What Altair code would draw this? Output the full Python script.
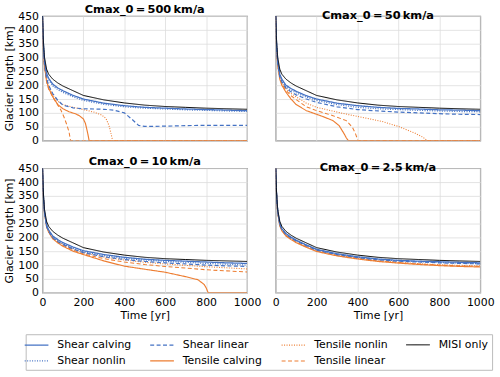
import altair as alt
import pandas as pd

# ---- data ----
PANELS = ["Cmax_0\u2009=\u2009500\u2009km/a", "Cmax_0\u2009=\u200950\u2009km/a",
          "Cmax_0\u2009=\u200910\u2009km/a", "Cmax_0\u2009=\u20092.5\u2009km/a"]

SERIES = ["Shear calving", "Shear nonlin", "Shear linear", "Tensile calving",
          "Tensile nonlin", "Tensile linear", "MISI only"]
COLORS = ["#4472c4", "#4472c4", "#4472c4", "#ed7d31", "#ed7d31", "#ed7d31", "#000000"]
DASHES = [[1, 0], [1, 1.5], [4, 2.5], [1, 0], [1, 1.5], [4, 2.5], [1, 0]]
WIDTHS = [1.3, 1.0, 1.3, 1.5, 0.8, 1.5, 1.8]

T = [0, 3, 6, 10, 20, 30, 50, 75, 100, 150, 200, 300, 400, 500, 600, 700, 800, 900, 1000]

misi = [450, 380, 340, 300, 258, 240, 222, 208, 197, 180, 163, 147, 136, 128, 123, 120, 117, 115, 113]

# panel 1: 500 km/a
p1_shear_calving = [450, 372, 330, 290, 243, 225, 204, 190, 180, 163, 150, 135, 126, 120, 117, 114, 112, 110, 108]
p1_shear_nonlin = [450, 368, 325, 285, 238, 220, 198, 184, 174, 158, 145, 131, 122, 117, 114, 111, 109, 107, 105]
p1_shear_linear_t = [0, 3, 6, 10, 20, 30, 50, 75, 100, 150, 200, 300, 350, 400, 440, 470, 500, 600, 700, 800, 900, 1000]
p1_shear_linear = [450, 360, 315, 275, 225, 200, 170, 145, 128, 118, 115, 113, 110, 100, 75, 55, 51, 52, 54, 55, 55, 55]
p1_tens_calving_t = [0, 3, 6, 10, 20, 30, 50, 75, 100, 130, 160, 180, 200, 210, 220, 228, 1000]
p1_tens_calving = [450, 355, 308, 268, 215, 190, 158, 130, 115, 104, 97, 90, 78, 62, 30, 0, 0]
p1_tens_linear_t = [0, 3, 6, 10, 20, 30, 50, 75, 90, 105, 120, 130, 137, 1000]
p1_tens_linear = [450, 352, 305, 265, 212, 186, 158, 128, 110, 85, 55, 30, 0, 0]
p1_tens_nonlin_t = [0, 3, 6, 10, 20, 30, 50, 75, 100, 150, 200, 250, 290, 310, 325, 335, 343, 1000]
p1_tens_nonlin = [450, 358, 312, 272, 220, 195, 165, 142, 130, 120, 112, 103, 92, 80, 55, 25, 0, 0]

# panel 2: 50 km/a
p2_shear_calving = [450, 370, 328, 288, 240, 222, 200, 188, 178, 162, 150, 135, 126, 120, 116, 114, 111, 110, 108]
p2_shear_nonlin = [450, 366, 323, 283, 235, 217, 195, 182, 172, 157, 145, 130, 120, 115, 112, 109, 107, 105, 104]
p2_shear_linear = [450, 362, 318, 278, 230, 212, 190, 176, 165, 150, 138, 122, 112, 107, 103, 100, 97, 95, 94]
p2_tens_calving_t = [0, 3, 6, 10, 20, 30, 50, 75, 100, 150, 200, 230, 280, 310, 335, 345, 355, 1000]
p2_tens_calving = [450, 355, 310, 270, 222, 200, 175, 150, 130, 108, 95, 87, 72, 54, 24, 10, 0, 0]
p2_tens_linear_t = [0, 3, 6, 10, 20, 30, 50, 75, 100, 150, 200, 280, 345, 375, 390, 402, 1000]
p2_tens_linear = [450, 358, 315, 275, 228, 205, 182, 162, 148, 122, 108, 90, 72, 48, 25, 0, 0]
p2_tens_nonlin_t = [0, 3, 6, 10, 20, 30, 50, 75, 100, 150, 200, 300, 360, 450, 520, 600, 680, 720, 740, 1000]
p2_tens_nonlin = [450, 360, 318, 278, 230, 208, 188, 170, 158, 135, 120, 103, 93, 80, 69, 51, 27, 12, 0, 0]

# panel 3: 10 km/a
p3_shear_calving = [450, 372, 332, 292, 245, 227, 205, 192, 181, 165, 152, 138, 128, 121, 117, 114, 111, 108, 106]
p3_shear_nonlin = [450, 370, 330, 290, 242, 224, 201, 188, 177, 161, 148, 134, 124, 118, 113, 110, 106, 103, 100]
p3_shear_linear = [450, 368, 328, 288, 240, 222, 199, 185, 174, 158, 145, 130, 120, 113, 108, 104, 100, 97, 95]
p3_tens_calving_t = [0, 3, 6, 10, 20, 30, 50, 75, 100, 150, 200, 300, 400, 500, 600, 700, 760, 790, 800, 810, 1000]
p3_tens_calving = [450, 366, 326, 286, 238, 219, 195, 180, 168, 150, 138, 115, 96, 85, 74, 58, 47, 30, 18, 0, 0]
p3_tens_nonlin = [450, 369, 329, 289, 241, 223, 199, 186, 175, 158, 145, 129, 118, 110, 104, 99, 94, 90, 86]
p3_tens_linear = [450, 367, 327, 287, 239, 221, 197, 183, 171, 154, 140, 123, 111, 102, 95, 89, 83, 79, 75]

# panel 4: 2.5 km/a
p4_shear_calving = [450, 375, 335, 295, 250, 232, 214, 201, 190, 173, 157, 141, 130, 122, 117, 114, 112, 110, 108]
p4_shear_nonlin = [450, 374, 334, 294, 248, 230, 212, 199, 188, 171, 155, 139, 128, 120, 115, 112, 109, 107, 105]
p4_shear_linear = [450, 373, 333, 293, 247, 229, 211, 198, 187, 170, 154, 138, 127, 119, 114, 111, 108, 106, 104]
p4_tens_calving = [450, 370, 328, 288, 242, 224, 205, 192, 181, 164, 149, 133, 122, 113, 107, 102, 98, 95, 93]
p4_tens_nonlin = [450, 372, 331, 291, 245, 227, 208, 195, 184, 167, 152, 136, 125, 116, 110, 105, 101, 99, 97]
p4_tens_linear = [450, 371, 330, 290, 244, 226, 207, 194, 183, 166, 151, 135, 124, 115, 109, 104, 100, 97, 95]

rows = []


def add(panel, series, ts, vs):
    for t, v in zip(ts, vs):
        rows.append({"panel": panel, "series": series, "t": t, "L": v})


def add_panel(p, sc, sn, sl, tc, tn, tl):
    add(p, "Tensile nonlin", *tn)
    add(p, "Tensile linear", *tl)
    add(p, "Tensile calving", *tc)
    add(p, "Shear nonlin", *sn)
    add(p, "Shear linear", *sl)
    add(p, "Shear calving", *sc)
    add(p, "MISI only", T, misi)


add_panel(PANELS[0], (T, p1_shear_calving), (T, p1_shear_nonlin), (p1_shear_linear_t, p1_shear_linear),
          (p1_tens_calving_t, p1_tens_calving), (p1_tens_nonlin_t, p1_tens_nonlin), (p1_tens_linear_t, p1_tens_linear))
add_panel(PANELS[1], (T, p2_shear_calving), (T, p2_shear_nonlin), (T, p2_shear_linear),
          (p2_tens_calving_t, p2_tens_calving), (p2_tens_nonlin_t, p2_tens_nonlin), (p2_tens_linear_t, p2_tens_linear))
add_panel(PANELS[2], (T, p3_shear_calving), (T, p3_shear_nonlin), (T, p3_shear_linear),
          (p3_tens_calving_t, p3_tens_calving), (T, p3_tens_nonlin), (T, p3_tens_linear))
add_panel(PANELS[3], (T, p4_shear_calving), (T, p4_shear_nonlin), (T, p4_shear_linear),
          (T, p4_tens_calving), (T, p4_tens_nonlin), (T, p4_tens_linear))

df = pd.DataFrame(rows)

FONT = "DejaVu Sans"
LEG = dict(orient="none", legendX=-17, legendY=322, title=None)


def panel(name, show_x, show_y):
    xaxis = alt.Axis(values=[0, 200, 400, 600, 800, 1000], labels=show_x, ticks=False, format="d",
                     title="Time [yr]" if show_x else None, grid=True, domain=False,
                     labelFontSize=11, titleFontSize=11, labelPadding=4, titlePadding=2,
                     labelFlush=False, labelOverlap=False)
    yaxis = alt.Axis(values=list(range(0, 451, 50)), labels=show_y, ticks=False,
                     title="Glacier length [km]" if show_y else None, grid=True, domain=False,
                     labelFontSize=11, titleFontSize=11, labelPadding=4, titlePadding=3,
                     labelFlush=False, labelOverlap=False)
    return alt.Chart(df[df.panel == name]).mark_line(clip=True).encode(
        x=alt.X("t:Q", scale=alt.Scale(domain=[0, 1000], nice=False), axis=xaxis),
        y=alt.Y("L:Q", scale=alt.Scale(domain=[0, 450], nice=False), axis=yaxis),
        color=alt.Color("series:N", scale=alt.Scale(domain=SERIES, range=COLORS), legend=alt.Legend(**LEG)),
        strokeDash=alt.StrokeDash("series:N", scale=alt.Scale(domain=SERIES, range=DASHES), legend=alt.Legend(**LEG)),
        strokeWidth=alt.StrokeWidth("series:N", scale=alt.Scale(domain=SERIES, range=WIDTHS), legend=alt.Legend(**LEG)),
        order=alt.Order("t:Q"),
    ).properties(width=207, height=126,
                 title=alt.Title(name, fontSize=11.5, fontWeight="bold", font=FONT, offset=-5, frame="group"))


chart = alt.concat(
    panel(PANELS[0], False, True), panel(PANELS[1], False, False),
    panel(PANELS[2], True, True), panel(PANELS[3], True, False),
    columns=2, spacing={"row": 28, "column": 29}, bounds="flush",
).configure(
    font=FONT,
    padding={"left": 3, "top": 0, "right": 5, "bottom": 0},
).configure_view(
    stroke="#808080", strokeWidth=1.2
).configure_axis(
    gridColor="#dddddd", gridWidth=0.8, labelColor="#000", titleColor="#000",
    labelFont=FONT, titleFont=FONT, titleFontWeight="normal"
).configure_legend(
    columns=4, symbolType="M-2,0H2", symbolSize=144, symbolFillColor="transparent",
    labelFontSize=11, labelFont=FONT, strokeColor="#bbbbbb", padding=4,
    columnPadding=16, rowPadding=4, symbolStrokeWidth=1.5, labelLimit=200,
    labelOffset=14
)

chart.save("out.html", embed_options={"renderer": "svg", "actions": False})
